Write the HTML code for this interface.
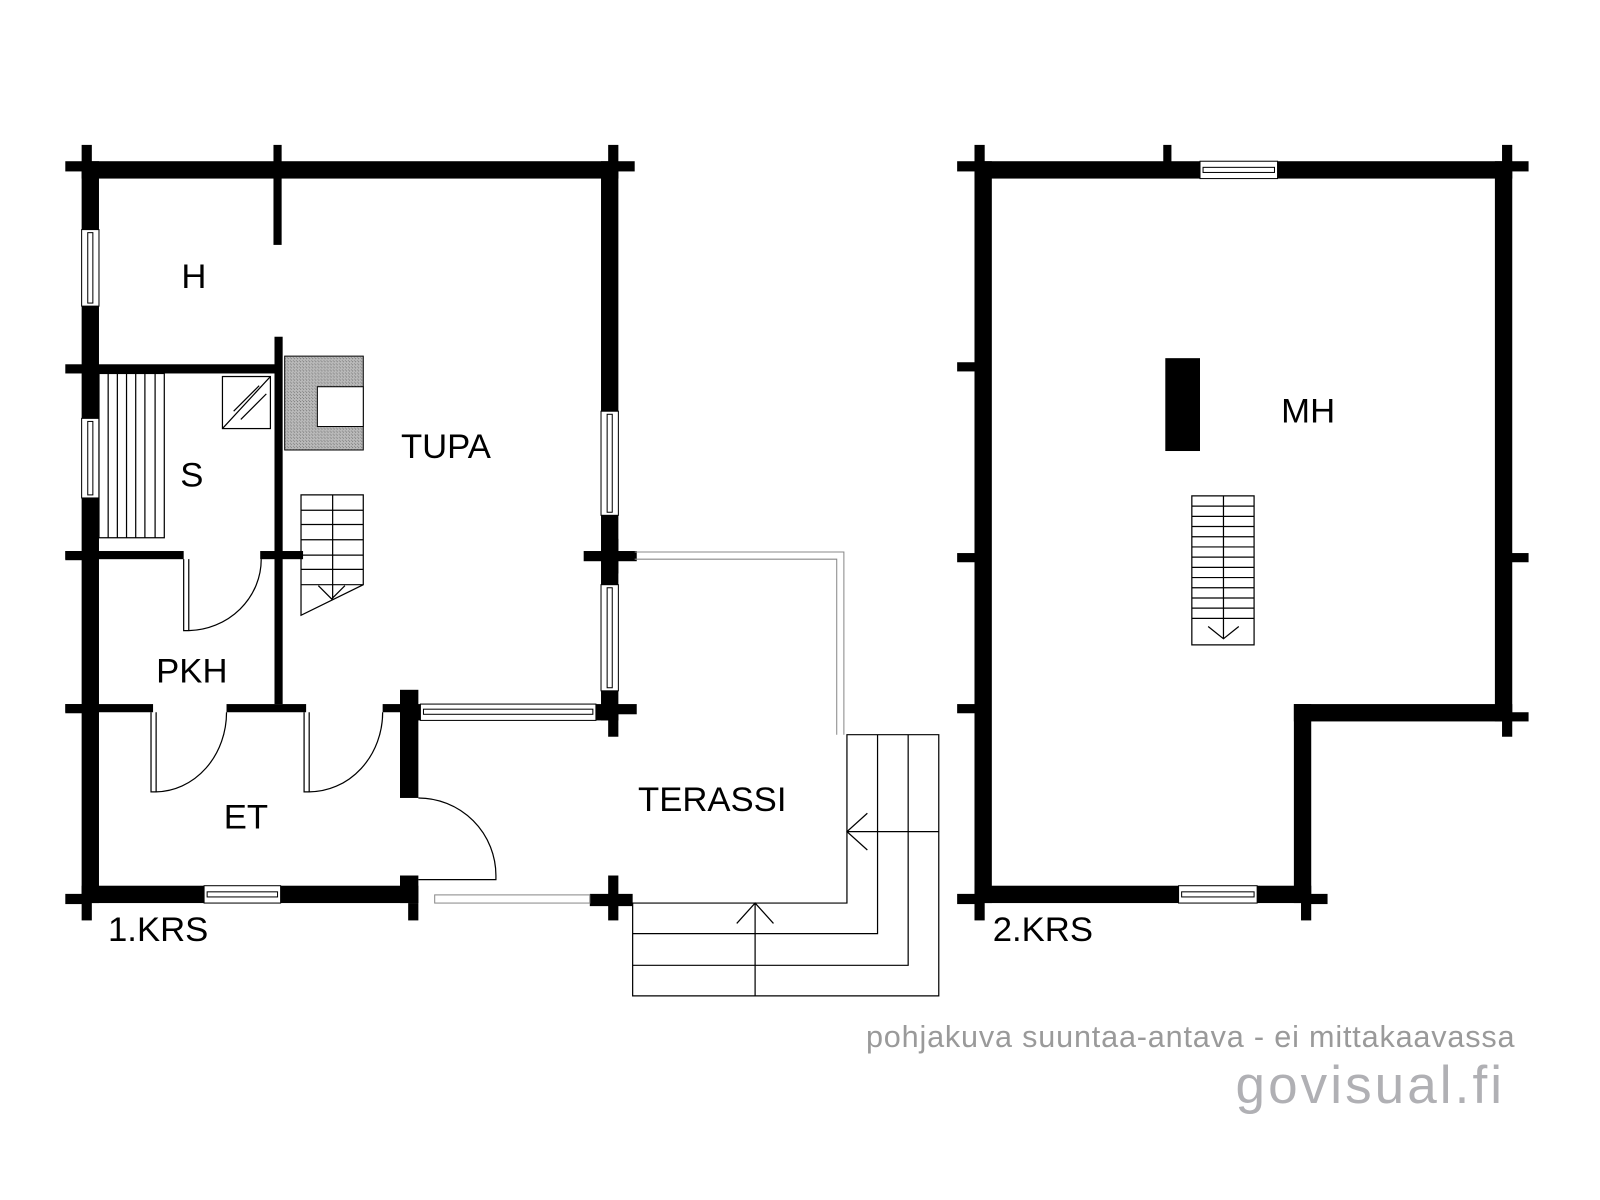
<!DOCTYPE html>
<html><head><meta charset="utf-8"><style>html,body{margin:0;padding:0;background:#fff}svg{display:block}</style></head>
<body>
<svg width="1600" height="1200" viewBox="0 0 1568 1176" xmlns="http://www.w3.org/2000/svg">
<defs>
<pattern id="hatch" width="3" height="3" patternUnits="userSpaceOnUse"><rect width="3" height="3" fill="#bbb"/><rect width="1" height="1" fill="#777"/><rect x="2" y="2" width="1" height="1" fill="#888"/></pattern>
</defs>
<rect width="1568" height="1176" fill="#fff"/>
<g fill="#000">
<rect x="80" y="158" width="526" height="17"/>
<rect x="80" y="158" width="17" height="727"/>
<rect x="589" y="158" width="17" height="548"/>
<rect x="80" y="868" width="330" height="17"/>
<rect x="64" y="158" width="18" height="10"/>
<rect x="80" y="142" width="10" height="18"/>
<rect x="604" y="158" width="18" height="10"/>
<rect x="596" y="142" width="10" height="18"/>
<rect x="268" y="142" width="8" height="98"/>
<rect x="64" y="876" width="18" height="10"/>
<rect x="80" y="883" width="10" height="19"/>
<rect x="64" y="540" width="18" height="9"/>
<rect x="64" y="690" width="18" height="9"/>
<rect x="64" y="357" width="212" height="9"/>
<rect x="269" y="330" width="8" height="360"/>
<rect x="64" y="540" width="116" height="8"/>
<rect x="255" y="540" width="42" height="8"/>
<rect x="64" y="690" width="86" height="8"/>
<rect x="222" y="690" width="78" height="8"/>
<rect x="375" y="690" width="35" height="8"/>
<rect x="392" y="676" width="18" height="106"/>
<rect x="392" y="858" width="18" height="27"/>
<rect x="400" y="885" width="10" height="17"/>
<rect x="400" y="690" width="206" height="16"/>
<rect x="596" y="690" width="10" height="32"/>
<rect x="604" y="690" width="20" height="10"/>
<rect x="572" y="540" width="52" height="10"/>
<rect x="596" y="528" width="10" height="34"/>
<rect x="596" y="858" width="10" height="44"/>
<rect x="578" y="876" width="42" height="12"/>
<rect x="1142" y="351" width="34" height="91"/>
<rect x="955" y="158" width="527" height="17"/>
<rect x="955" y="158" width="17" height="727"/>
<rect x="1465" y="158" width="17" height="549"/>
<rect x="1268" y="690" width="214" height="17"/>
<rect x="1268" y="690" width="17" height="195"/>
<rect x="955" y="868" width="330" height="17"/>
<rect x="938" y="158" width="18" height="10"/>
<rect x="955" y="142" width="10" height="18"/>
<rect x="1140" y="142" width="8" height="18"/>
<rect x="1480" y="158" width="18" height="10"/>
<rect x="1472" y="142" width="10" height="18"/>
<rect x="938" y="355" width="18" height="9"/>
<rect x="938" y="542" width="18" height="9"/>
<rect x="938" y="690" width="18" height="9"/>
<rect x="938" y="876" width="18" height="10"/>
<rect x="955" y="883" width="10" height="19"/>
<rect x="1480" y="542" width="18" height="9"/>
<rect x="1480" y="698" width="18" height="9"/>
<rect x="1472" y="705" width="10" height="17"/>
<rect x="1283" y="876" width="18" height="10"/>
<rect x="1275" y="883" width="10" height="19"/>
</g>
<g fill="#fff" stroke="#000" stroke-width="1">
<rect x="80" y="225" width="17" height="75"/><rect x="86" y="228" width="5" height="69"/>
<rect x="80" y="410" width="17" height="78"/><rect x="86" y="413" width="5" height="72"/>
<rect x="589" y="403" width="17" height="102"/><rect x="595" y="406" width="5" height="96"/>
<rect x="589" y="573" width="17" height="104"/><rect x="595" y="576" width="5" height="98"/>
<rect x="412" y="690" width="172" height="16"/><rect x="415" y="695" width="166" height="5"/>
<rect x="200" y="868" width="75" height="17"/><rect x="203" y="874" width="69" height="5"/>
<rect x="1176" y="158" width="76" height="17"/><rect x="1179" y="164" width="70" height="5"/>
<rect x="1155" y="868" width="77" height="17"/><rect x="1158" y="874" width="71" height="5"/>
</g>
<rect x="426" y="877" width="152" height="8" fill="#fff" stroke="#888" stroke-width="1"/>
<path d="M622 541 H827 V720 M622 548 H820 V720" fill="none" stroke="#888" stroke-width="1"/>
<g fill="none" stroke="#000" stroke-width="1.2">
<rect x="97" y="366" width="64" height="161"/>
<path d="M106 366V527M115 366V527M124 366V527M133 366V527M142 366V527M152 366V527"/>
<rect x="218" y="369" width="47" height="51"/>
<path d="M218 420L265 369M229 403L254 378M236 411L261 386"/>
<path d="M295 485H356V573L295 603Z M326 485V588 M295 500H356M295 514H356M295 529H356M295 544H356M295 558H356M295 573H356 M312 574L325 587L338 574"/>
<path d="M180 548V618H185V548 M185 618A73 70 0 0 0 256 548"/>
<path d="M148 698V776H153V698 M153 776A70 78 0 0 0 222 698"/>
<path d="M298 698V776H303V698 M303 776A72 78 0 0 0 375 698"/>
<path d="M410 782A76 76 0 0 1 486 858V862H410"/>
<path d="M620 885H830V720H920V976H620Z M620 915H860V720 M620 946H890V720 M740 885V976 M722 905L740 885L758 905 M830 815H920 M850 797L830 815L850 833"/>
<path d="M1168 486H1229V632H1168Z M1199 486V626 M1168 496H1229M1168 506H1229M1168 516H1229M1168 526H1229M1168 536H1229M1168 546H1229M1168 556H1229M1168 566H1229M1168 576H1229M1168 586H1229M1168 596H1229M1168 606H1229 M1184 614L1199 626L1214 614"/>
</g>
<path d="M279 349H356V441H279Z" fill="url(#hatch)" stroke="#000" stroke-width="1"/>
<rect x="311" y="379" width="45" height="39" fill="#fff" stroke="#000" stroke-width="1"/>
<g font-family="'Liberation Sans', sans-serif" font-size="34" fill="#000" text-anchor="middle">
<text x="190" y="282">H</text>
<text x="437" y="449">TUPA</text>
<text x="188" y="477">S</text>
<text x="188" y="669">PKH</text>
<text x="241" y="812">ET</text>
<text x="698" y="795">TERASSI</text>
<text x="1282" y="414">MH</text>
<text x="155" y="922">1.KRS</text>
<text x="1022" y="922">2.KRS</text>
</g>
<text x="1485" y="1026" text-anchor="end" font-family="'Liberation Sans', sans-serif" font-size="30" letter-spacing="0.8" fill="#9a9a9a">pohjakuva suuntaa-antava - ei mittakaavassa</text>
<text x="1475" y="1081" text-anchor="end" font-family="'Liberation Sans', sans-serif" font-size="52" letter-spacing="3" fill="#b0b0b4">govisual.fi</text>
</svg>
</body></html>
